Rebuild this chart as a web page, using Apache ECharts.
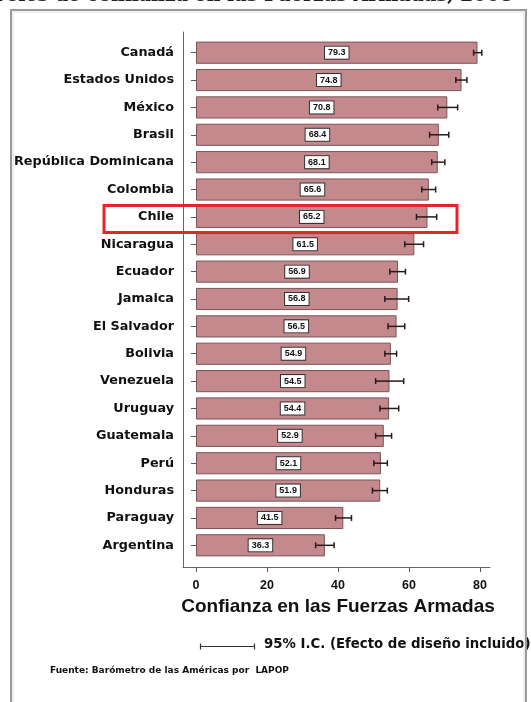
<!DOCTYPE html>
<html><head><meta charset="utf-8">
<script src="https://cdn.jsdelivr.net/npm/echarts@6/dist/echarts.min.js"></script>
<style>html,body{margin:0;padding:0;background:#fff}#c{width:531px;height:702px}</style>
</head><body><div id="c"></div>
<script>
const countries = ['Canadá','Estados Unidos','México','Brasil','República Dominicana','Colombia','Chile','Nicaragua','Ecuador','Jamaica','El Salvador','Bolivia','Venezuela','Uruguay','Guatemala','Perú','Honduras','Paraguay','Argentina'];
const values = [79.3,74.8,70.8,68.4,68.1,65.6,65.2,61.5,56.9,56.8,56.5,54.9,54.5,54.4,52.9,52.1,51.9,41.5,36.3];
const ciLow  = [78.2,73.2,68.1,65.8,66.4,63.6,62.1,58.8,54.6,53.2,54.1,53.2,50.6,51.8,50.6,50.1,49.7,39.3,33.7];
const ciHigh = [80.5,76.3,73.7,71.2,70.1,67.5,67.8,64.1,59.0,59.9,58.8,56.5,58.5,57.1,55.1,53.9,53.9,43.8,38.9];
const xTicks = [0,20,40,60,80];
const titleText = 'Niveles de confianza en las Fuerzas Armadas, 2008';
const xAxisTitle = 'Confianza en las Fuerzas Armadas';
const legendText = '95% I.C. (Efecto de diseño incluido)';
const sourceText = 'Fuente: Barómetro de las Américas por  LAPOP';
const highlight = 'Chile';

const chart = echarts.init(document.getElementById('c'), null, {renderer:'canvas'});
const F = '"Liberation Sans", Arial, sans-serif';
const errData = countries.map((c,i)=>[i, ciLow[i], ciHigh[i]]);

const option = {
  animation:false,
  grid:[
    {left:196, right:51, top:39, bottom:143},
    {left:183, right:41, top:32, bottom:135}
  ],
  xAxis:[
    {type:'value', gridIndex:0, min:0, max:80, interval:20, offset:8,
     axisLine:{show:false}, splitLine:{show:false},
     axisTick:{show:true, length:5, lineStyle:{color:'#555', width:1}},
     axisLabel:{margin:12, fontFamily:F, fontWeight:'bold', fontSize:12.5, color:'#111'},
     name:xAxisTitle, nameLocation:'middle', nameGap:27,
     nameTextStyle:{fontFamily:F, fontWeight:'bold', fontSize:19, color:'#111'}},
    {type:'value', gridIndex:1, min:0, max:1, axisLine:{show:true, lineStyle:{color:'#666', width:1}},
     axisTick:{show:false}, axisLabel:{show:false}, splitLine:{show:false}}
  ],
  yAxis:[
    {type:'category', gridIndex:0, data:countries, inverse:true, offset:13,
     axisLine:{show:false},
     axisTick:{show:true, alignWithLabel:true, length:5, lineStyle:{color:'#555'}},
     axisLabel:{margin:9, fontFamily:'"DejaVu Sans", sans-serif', fontWeight:'bold', fontSize:12.8, color:'#111'}},
    {type:'value', gridIndex:1, min:0, max:1, axisLine:{show:true, lineStyle:{color:'#666', width:1}},
     axisTick:{show:false}, axisLabel:{show:false}, splitLine:{show:false}}
  ],
  series:[
    {type:'bar', xAxisIndex:0, yAxisIndex:0, data:values, barCategoryGap:'19%',
     itemStyle:{color:'#c4898d', borderColor:'#7a5558', borderWidth:1},
     label:{show:true, position:'inside', formatter:p=>p.value.toFixed(1),
       fontFamily:F, fontWeight:'bold', fontSize:9, color:'#111',
       backgroundColor:'#fff', borderColor:'#333', borderWidth:1, padding:[2,3,1,3]}},
    {type:'custom', xAxisIndex:0, yAxisIndex:0, data:errData, z:5,
     renderItem:function(params, api){
       const y = api.value(0);
       const p1 = api.coord([api.value(1), y]);
       const p2 = api.coord([api.value(2), y]);
       const h = 3;
       const st = {stroke:'#2a1a1a', lineWidth:1.5};
       return {type:'group', children:[
         {type:'line', shape:{x1:p1[0], y1:p1[1], x2:p2[0], y2:p2[1]}, style:st},
         {type:'line', shape:{x1:p1[0], y1:p1[1]-h, x2:p1[0], y2:p1[1]+h}, style:st},
         {type:'line', shape:{x1:p2[0], y1:p2[1]-h, x2:p2[0], y2:p2[1]+h}, style:st}
       ]};
     }}
  ]
};
chart.setOption(option);

const hy = chart.convertToPixel({xAxisIndex:0, yAxisIndex:0}, [0, countries.indexOf(highlight)])[1];
chart.setOption({graphic:[
  {type:'rect', shape:{x:11, y:10, width:515, height:720}, style:{fill:'none', stroke:'#9a9a9a', lineWidth:2}, z:1, silent:true},
  {type:'rect', shape:{x:13, y:12, width:511, height:716}, style:{fill:'none', stroke:'#dcdcdc', lineWidth:1}, z:1, silent:true},
  {type:'text', right:18, top:-13, style:{text:titleText, font:'bold 19px "DejaVu Serif", serif', fill:'#222'}},
  {type:'rect', shape:{x:104, y:hy-11.5, width:353, height:27}, style:{fill:'none', stroke:'#e3262c', lineWidth:3}, z:100},
  {type:'group', left:198, top:641, children:[
    {type:'line', shape:{x1:0,y1:4,x2:54,y2:4}, style:{stroke:'#333', lineWidth:1.2}},
    {type:'line', shape:{x1:0,y1:1,x2:0,y2:7}, style:{stroke:'#333', lineWidth:1.2}},
    {type:'line', shape:{x1:54,y1:1,x2:54,y2:7}, style:{stroke:'#333', lineWidth:1.2}}
  ]},
  {type:'text', left:264, top:638, style:{text:legendText, font:'bold 13.3px "DejaVu Sans", sans-serif', fill:'#111'}},
  {type:'text', left:50, top:666, style:{text:sourceText, font:'bold 9px "DejaVu Sans", sans-serif', fill:'#111'}}
]});
</script></body></html>
